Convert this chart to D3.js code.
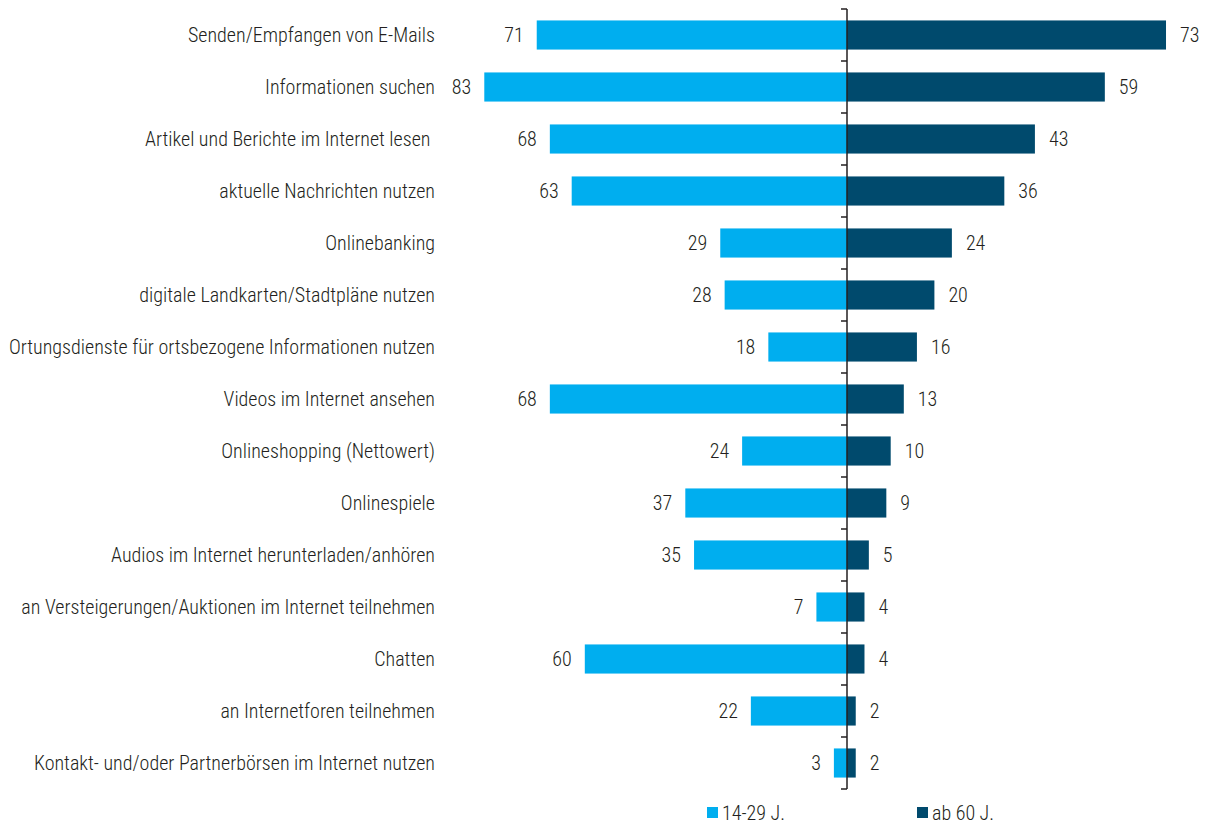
<!DOCTYPE html>
<html>
<head>
<meta charset="utf-8">
<script src="https://cdn.jsdelivr.net/npm/d3@7"></script>
<style>
  body { margin: 0; background: #fff; }
  svg text { font-family: "Roboto Condensed", "Liberation Sans Narrow", "Liberation Sans", sans-serif; font-weight: 300; fill: #231f20; }
</style>
</head>
<body>
<div id="chart"></div>
<script>
const categories = [
  'Senden/Empfangen von E-Mails',
  'Informationen suchen',
  'Artikel und Berichte im Internet lesen ',
  'aktuelle Nachrichten nutzen',
  'Onlinebanking',
  'digitale Landkarten/Stadtpläne nutzen',
  'Ortungsdienste für ortsbezogene Informationen nutzen',
  'Videos im Internet ansehen',
  'Onlineshopping (Nettowert)',
  'Onlinespiele',
  'Audios im Internet herunterladen/anhören',
  'an Versteigerungen/Auktionen im Internet teilnehmen',
  'Chatten',
  'an Internetforen teilnehmen',
  'Kontakt- und/oder Partnerbörsen im Internet nutzen'
];
const young = [71, 83, 68, 63, 29, 28, 18, 68, 24, 37, 35, 7, 60, 22, 3];
const old = [73, 59, 43, 36, 24, 20, 16, 13, 10, 9, 5, 4, 4, 2, 2];
const seriesNames = ['14-29 J.', 'ab 60 J.'];
const colors = ['#00aeef', '#004a6d'];

const width = 1205, height = 825;
const centerX = 847;
const topY = 9, rowH = 52;
const fontSize = '20px';

const svg = d3.select('#chart').append('svg')
  .attr('width', width)
  .attr('height', height);

const y = d3.scaleBand()
  .domain(categories)
  .range([topY, topY + rowH * categories.length])
  .paddingInner(0.44)
  .paddingOuter(0.22);

// one unit = ~4.37px, same for both sides
const xLeft = d3.scaleLinear().domain([0, 100]).range([centerX, centerX - 437]);
const xRight = d3.scaleLinear().domain([0, 100]).range([centerX, centerX + 437]);

// bars
svg.selectAll('.bar-young')
  .data(young)
  .enter().append('rect')
    .attr('class', 'bar-young')
    .attr('x', d => xLeft(d))
    .attr('y', (d, i) => y(categories[i]))
    .attr('width', d => centerX - xLeft(d))
    .attr('height', y.bandwidth())
    .attr('fill', colors[0]);

svg.selectAll('.bar-old')
  .data(old)
  .enter().append('rect')
    .attr('class', 'bar-old')
    .attr('x', centerX)
    .attr('y', (d, i) => y(categories[i]))
    .attr('width', d => xRight(d) - centerX)
    .attr('height', y.bandwidth())
    .attr('fill', colors[1]);

// value labels
svg.selectAll('.lbl-young')
  .data(young)
  .enter().append('text')
    .attr('x', d => xLeft(d) - 13)
    .attr('y', (d, i) => y(categories[i]) + y.bandwidth() / 2)
    .attr('dy', '0.35em')
    .attr('text-anchor', 'end')
    .style('font-size', fontSize)
    .text(d => d);

svg.selectAll('.lbl-old')
  .data(old)
  .enter().append('text')
    .attr('x', d => xRight(d) + 14)
    .attr('y', (d, i) => y(categories[i]) + y.bandwidth() / 2)
    .attr('dy', '0.35em')
    .attr('text-anchor', 'start')
    .style('font-size', fontSize)
    .text(d => d);

// category labels
svg.selectAll('.cat')
  .data(categories)
  .enter().append('text')
    .attr('x', 435)
    .attr('y', d => y(d) + y.bandwidth() / 2)
    .attr('dy', '0.35em')
    .attr('text-anchor', 'end')
    .style('font-size', fontSize)
    .style('white-space', 'pre')
    .text(d => d);

// center axis with ticks at row boundaries
const ticks = d3.range(categories.length + 1).map(i => topY + i * rowH);
svg.append('line')
  .attr('x1', centerX).attr('x2', centerX)
  .attr('y1', ticks[0]).attr('y2', ticks[ticks.length - 1])
  .attr('stroke', '#231f20')
  .attr('stroke-width', 1.5);
svg.selectAll('.tick')
  .data(ticks)
  .enter().append('line')
    .attr('x1', centerX - 6).attr('x2', centerX)
    .attr('y1', d => d).attr('y2', d => d)
    .attr('stroke', '#231f20')
    .attr('stroke-width', 1.5);

// legend
const legendX = [707, 917];
const legend = svg.selectAll('.legend')
  .data(seriesNames)
  .enter().append('g')
    .attr('transform', (d, i) => `translate(${legendX[i]},807)`);
legend.append('rect')
  .attr('width', 11).attr('height', 11)
  .attr('fill', (d, i) => colors[i]);
legend.append('text')
  .attr('x', 15)
  .attr('y', 6)
  .attr('dy', '0.35em')
  .style('font-size', fontSize)
  .text(d => d);
</script>
</body>
</html>
